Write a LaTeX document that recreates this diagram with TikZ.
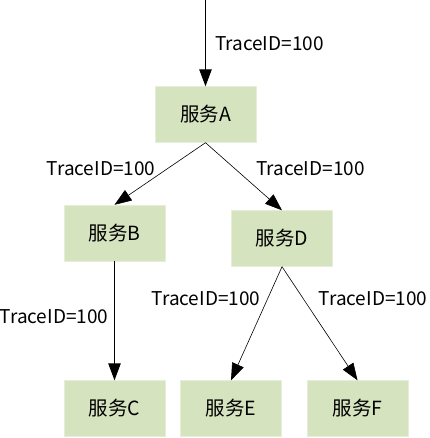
\documentclass[tikz,border=0pt]{standalone}
\usepackage{fontspec}
\setmainfont{Noto Sans CJK SC}
\usetikzlibrary{arrows.meta}
\definecolor{svcgreen}{RGB}{214,227,191}

\begin{document}
\begin{tikzpicture}[x=1pt,y=-1pt,
% boxes for the services
svc/.style={fill=svcgreen, draw=svcgreen!60!white, minimum width=101pt,
    minimum height=56pt, inner sep=0pt, font=\fontsize{19.5}{21}\selectfont},
% arrows between services
call/.style={-{Triangle[length=17pt,width=12.5pt]}, line width=0.6pt},
lbl/.style={inner sep=0pt, font=\fontsize{19}{21}\selectfont}]
\useasboundingbox (0,0) rectangle (429,438);
% services
\node[svc] (a) at (205.5,114.5) {服务A};
\node[svc] (b) at (114.5,233) {服务B};
\node[svc] (d) at (282,238.5) {服务D};
\node[svc] (c) at (114.5,408.5) {服务C};
\node[svc] (e) at (231,408.5) {服务E};
\node[svc] (f) at (357.5,408.5) {服务F};
\coordinate (in) at (205.5,0);
% calls
\draw[call, line width=1pt] (in) -- (a.north);
\draw[call] (a.south) -- (b.north);
\draw[call] (a.south) -- (d.north);
\draw[call, line width=1pt] (b.south) -- (c.north);
\draw[call] (d.south) -- (e.north);
\draw[call] (d.south) -- (f.north);
% annotations
\node[lbl] (lin) at (269.5,44) {TraceID=100};
\node[lbl] (lab) at (101,169) {TraceID=100};
\node[lbl] (lad) at (310.5,169) {TraceID=100};
\node[lbl] (lbc) at (54,317) {TraceID=100};
\node[lbl] (lde) at (206,299) {TraceID=100};
\node[lbl] (ldf) at (373,299) {TraceID=100};
\end{tikzpicture}
\end{document}
